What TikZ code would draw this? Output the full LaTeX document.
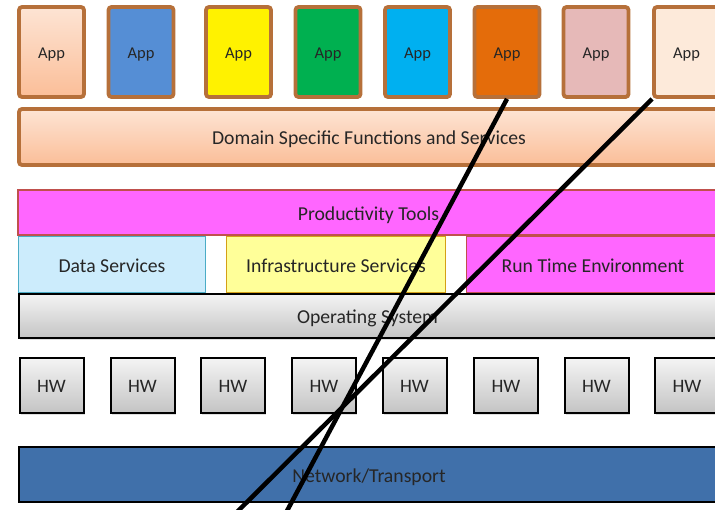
\documentclass[tikz,border=0pt]{standalone}
\usepackage{fontspec}
\setmainfont{Carlito}
\usetikzlibrary{shadows}
\definecolor{appbrown}{RGB}{182,112,58}
\definecolor{peachtop}{RGB}{253,228,212}
\definecolor{peachbot}{RGB}{251,190,152}
\definecolor{appblue}{RGB}{85,142,213}
\definecolor{appgreen}{RGB}{0,176,80}
\definecolor{appcyan}{RGB}{0,176,240}
\definecolor{apporange}{RGB}{228,108,10}
\definecolor{apppink}{RGB}{230,185,184}
\definecolor{applight}{RGB}{253,234,218}
\definecolor{magentafill}{RGB}{255,102,255}
\definecolor{magentaline}{RGB}{192,80,77}
\definecolor{datafill}{RGB}{204,236,252}
\definecolor{dataline}{RGB}{75,172,198}
\definecolor{infrafill}{RGB}{255,255,153}
\definecolor{infraline}{RGB}{212,160,23}
\definecolor{netblue}{RGB}{64,112,170}
\definecolor{greytop}{RGB}{244,244,244}
\definecolor{greybot}{RGB}{196,196,196}
\begin{document}
\begin{tikzpicture}[x=1pt, y=-1pt,
  every node/.style={font=\fontsize{19.7}{22}\selectfont, text=black!85, text height=15.4pt, text depth=0pt},
  app/.style={draw=appbrown, line width=3.8pt, rounded corners=3pt, minimum width=65pt, minimum height=90pt, font=\fontsize{16.5}{18}\selectfont, text height=12.9pt},
  dombar/.style={app, top color=peachtop, bottom color=peachbot, minimum width=700pt, minimum height=56pt, font=\fontsize{19.7}{22}\selectfont, text height=15.4pt},
  layer/.style={line width=1.5pt, minimum height=45pt},
  greybox/.style={draw=black, line width=2pt, top color=greytop, bottom color=greybot, drop shadow={opacity=0.25, shadow xshift=1pt, shadow yshift=-2pt}},
  hwbox/.style={greybox, minimum width=64pt, minimum height=55pt, font=\fontsize{19}{21}\selectfont, text height=14.8pt}]
\path[use as bounding box, clip] (0,0) rectangle (715,509);
\node[app, top color=peachtop, bottom color=peachbot] (a1) at (51.5,52) {App};
\node[app, fill=appblue] (a2) at (141,52) {App};
\node[app, fill=yellow] (a3) at (238.5,52) {App};
\node[app, fill=appgreen] (a4) at (328,52) {App};
\node[app, fill=appcyan] (a5) at (417.5,52) {App};
\node[app, fill=apporange] (a6) at (507,52) {App};
\node[app, fill=apppink] (a7) at (596,52) {App};
\node[app, fill=applight] (a8) at (686.5,52) {App};
\node[dombar] (dom) at (369,137) {Domain Specific Functions and Services};
\node[layer, draw=magentaline, fill=magentafill, minimum width=701pt] (prod) at (368.5,212.5) {Productivity Tools};
\node[layer, greybox, minimum width=698pt, minimum height=44pt] (os) at (367.5,316) {Operating System};
\node[layer, draw=dataline, fill=datafill, minimum width=187pt, minimum height=56pt] (data) at (112,264.5) {Data Services};
\node[layer, draw=infraline, fill=infrafill, minimum width=219pt, minimum height=56pt] (infra) at (336,264.5) {Infrastructure Services};
\node[layer, draw=magentaline, fill=magentafill, minimum width=253pt, minimum height=56pt] (rte) at (593,264.5) {Run Time Environment};
\foreach \x [count=\i] in {51.5,142.5,233,324,414.5,506,596.5,687}
  \node[hwbox] (hw\i) at (\x,385.5) {HW};
\node[draw=black, line width=2pt, fill=netblue, minimum width=701pt, minimum height=55pt] (net) at (369,474.5) {Network/Transport};
\coordinate (end1) at (284.8,515);
\coordinate (end2) at (234,515);
\draw[line width=4.5pt] (a6.south) -- (end1);
\draw[line width=4.5pt] (a8.south west) -- (end2);
\end{tikzpicture}
\end{document}
